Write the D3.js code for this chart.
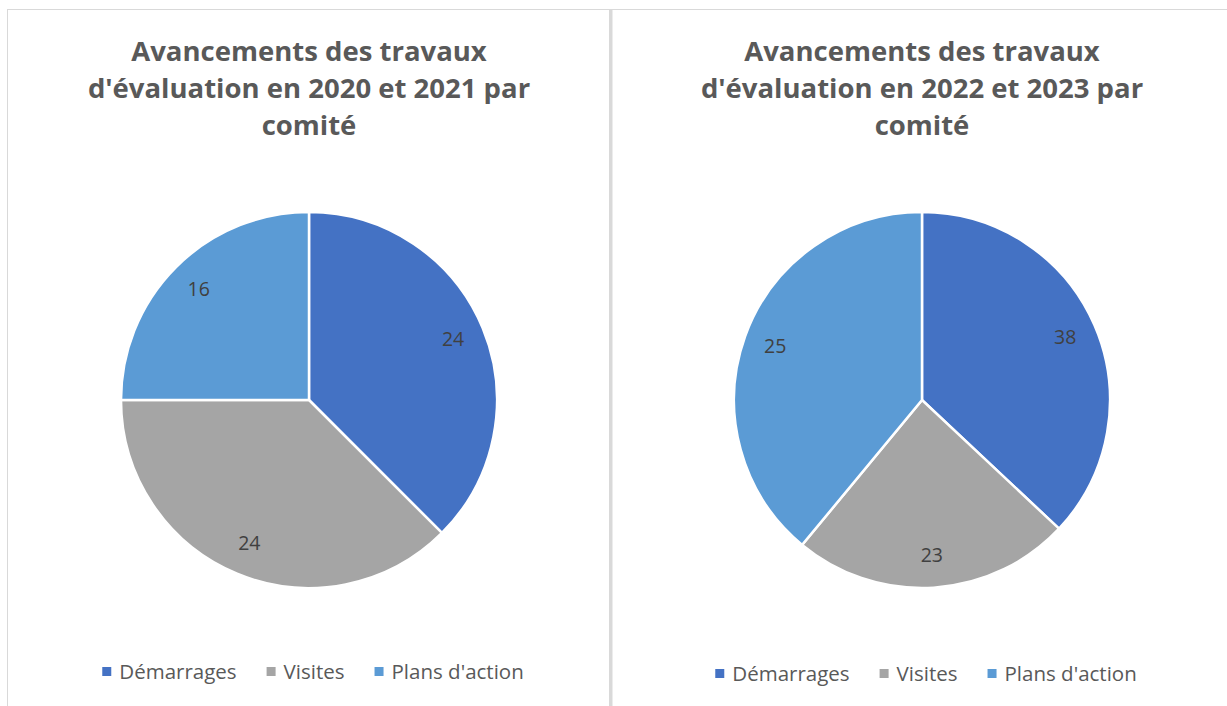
<!DOCTYPE html>
<html>
<head>
<meta charset="utf-8">
<script src="https://cdn.jsdelivr.net/npm/d3@7"></script>
<style>
  body { margin: 0; background: #fff; }
  svg { display: block; }
</style>
</head>
<body>
<svg width="1227" height="706"></svg>
<script>
const categories = ["Démarrages", "Visites", "Plans d'action"];
const colors = ["#4472C4", "#A5A5A5", "#5B9BD5"];

// 2020-2021
const title1 = ["Avancements des travaux", "d'évaluation en 2020 et 2021 par", "comité"];
const values1 = [24, 24, 16];
const labels1 = ["24", "24", "16"];

const title2 = ["Avancements des travaux", "d'évaluation en 2022 et 2023 par", "comité"];
const values2 = [37, 24, 39];
const labels2 = ["38", "23", "25"];

const svg = d3.select('svg');
const font = "'Open Sans', Lato, sans-serif";

// frame lines
svg.append('line').attr('x1', 7).attr('x2', 1227).attr('y1', 9.5).attr('y2', 9.5)
  .attr('stroke', '#d9d9d9').attr('stroke-width', 1);
svg.append('line').attr('x1', 7.5).attr('x2', 7.5).attr('y1', 9).attr('y2', 706)
  .attr('stroke', '#d9d9d9').attr('stroke-width', 1);
svg.append('rect').attr('x', 609).attr('y', 9).attr('width', 3.5).attr('height', 697)
  .attr('fill', '#d9d9d9');

const radius = 188;
const pie = d3.pie().sort(null).value(d => d.v);
const arc = d3.arc().innerRadius(0).outerRadius(radius);
const labelArc = d3.arc().innerRadius(156).outerRadius(156);

function drawChart(cx, title, values, labels, legendY) {
  const g = svg.append('g');

  g.selectAll('text.title')
    .data(title)
    .join('text')
    .attr('class', 'title')
    .attr('x', cx)
    .attr('y', (d, i) => 61 + i * 37)
    .attr('text-anchor', 'middle')
    .attr('font-family', font)
    .attr('font-weight', 'bold')
    .attr('font-size', 27.5)
    .attr('fill', '#595959')
    .text(d => d);

  const data = values.map((v, i) => ({ v: v, c: colors[i], label: labels[i] }));
  const pg = g.append('g').attr('transform', `translate(${cx}, 400)`);
  const arcs = pie(data);

  pg.selectAll('path')
    .data(arcs)
    .join('path')
    .attr('d', arc)
    .attr('fill', d => d.data.c)
    .attr('stroke', '#fff')
    .attr('stroke-width', 2.5);

  pg.selectAll('text')
    .data(arcs)
    .join('text')
    .attr('transform', d => `translate(${labelArc.centroid(d)})`)
    .attr('text-anchor', 'middle')
    .attr('dy', '0.3em')
    .attr('font-family', font)
    .attr('font-size', 19.5)
    .attr('fill', '#404040')
    .text(d => d.data.label);

  // legend
  const lg = g.append('g');
  const items = lg.selectAll('g')
    .data(categories)
    .join('g');
  items.append('rect')
    .attr('width', 9).attr('height', 9)
    .attr('y', -5)
    .attr('fill', (d, i) => colors[i]);
  items.append('text')
    .attr('x', 17)
    .attr('dy', '0.35em')
    .attr('font-family', font)
    .attr('font-size', 20.5)
    .attr('fill', '#595959')
    .text(d => d);

  let x = 0;
  items.each(function() {
    d3.select(this).attr('transform', `translate(${x}, 0)`);
    x += this.getBBox().width + 30;
  });
  const total = x - 30;
  lg.attr('transform', `translate(${cx + 4 - total / 2}, ${legendY})`);
}

drawChart(309, title1, values1, labels1, 672);
drawChart(922, title2, values2, labels2, 674);
</script>
</body>
</html>
